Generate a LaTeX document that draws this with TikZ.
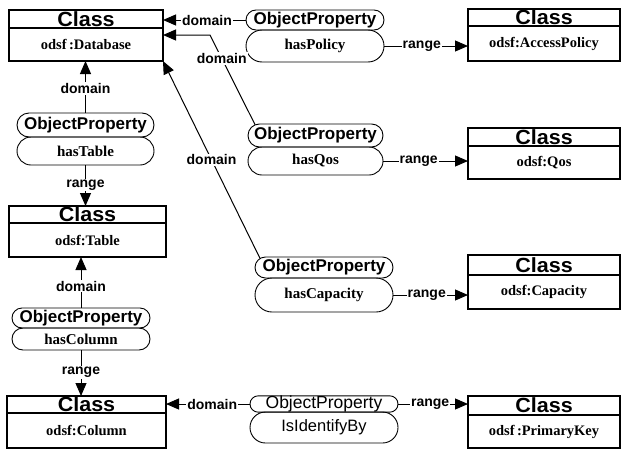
\documentclass[tikz,border=0pt]{standalone}
\usepackage{fontspec}
\setmainfont{Liberation Serif}
\setsansfont{Liberation Sans}
\usetikzlibrary{arrows.meta,shapes.misc}

\newcommand{\clsname}{\scalebox{1.05}[1]{Class}}

\tikzset{
  classhead/.style={draw, line width=1.2pt, inner sep=0pt, outer sep=0pt,
    font=\sffamily\bfseries\fontsize{20.5}{20.5}\selectfont},
  classbody/.style={draw, line width=1.2pt, inner sep=0pt, outer sep=0pt,
    font=\rmfamily\bfseries\fontsize{14.5}{14.5}\selectfont},
  proptop/.style={draw, rounded rectangle, line width=0.9pt, inner sep=0pt, outer sep=0pt,
    font=\sffamily\bfseries\fontsize{17}{17}\selectfont},
  propbot/.style={draw, rounded rectangle, line width=0.9pt, inner sep=0pt, outer sep=0pt,
    font=\rmfamily\bfseries\fontsize{15}{15}\selectfont},
  edgelabel/.style={fill=white, inner sep=1pt,
    font=\sffamily\bfseries\fontsize{14}{14}\selectfont},
  link/.style={line width=1pt, -{Triangle[length=13pt,width=11pt]}},
}

\begin{document}
\begin{tikzpicture}[x=1pt,y=-1pt]
\useasboundingbox (0,0) rectangle (623,450);

% ---- classes ----
\node[classhead, minimum width=154, minimum height=18] (dbH) at (86,19) {\clsname};
\node[classbody, minimum width=154, minimum height=33] (db) at (86,44.5) {odsf\,:Database};

\node[classhead, minimum width=152, minimum height=17] (apH) at (544,17.5) {\clsname};
\node[classbody, minimum width=152, minimum height=35] (ap) at (544,43.5) {odsf:AccessPolicy};

\node[classhead, minimum width=152, minimum height=18] (qosH) at (544,137) {\clsname};
\node[classbody, minimum width=152, minimum height=33] (qos) at (544,162.5) {odsf:Qos};

\node[classhead, minimum width=152, minimum height=20] (capH) at (544,265) {\clsname};
\node[classbody, minimum width=152, minimum height=34] (cap) at (544,292) {odsf:Capacity};

\node[classhead, minimum width=157, minimum height=17] (tblH) at (87.5,214.5) {\clsname};
\node[classbody, minimum width=157, minimum height=34] (tbl) at (87.5,240) {odsf:Table};

\node[classhead, minimum width=159, minimum height=17] (colH) at (86.5,404.5) {\clsname};
\node[classbody, minimum width=159, minimum height=35] (col) at (86.5,430.5) {odsf:Column};

\node[classhead, minimum width=152, minimum height=19] (pkH) at (544,405.5) {\clsname};
\node[classbody, minimum width=152, minimum height=33] (pk) at (544,431.5) {odsf\,:PrimaryKey};

% ---- object properties ----
\node[proptop, minimum width=138, minimum height=20] (ppT) at (315,20) {ObjectProperty};
\node[propbot, minimum width=138, minimum height=32] (ppB) at (315,46) {hasPolicy};

\node[proptop, minimum width=137, minimum height=24] (ptT) at (85.5,125) {ObjectProperty};
\node[propbot, minimum width=137, minimum height=28] (ptB) at (85.5,151) {hasTable};

\node[proptop, minimum width=135, minimum height=23] (pqT) at (315.5,135.5) {ObjectProperty};
\node[propbot, minimum width=135, minimum height=28] (pqB) at (315.5,161) {hasQos};

\node[proptop, minimum width=138, minimum height=21] (pcT) at (324,267.5) {ObjectProperty};
\node[propbot, minimum width=138, minimum height=34] (pcB) at (324,295) {hasCapacity};

\node[proptop, minimum width=138, minimum height=20] (pcolT) at (81,318) {ObjectProperty};
\node[propbot, minimum width=138, minimum height=22] (pcolB) at (81,339) {hasColumn};

\node[proptop, minimum width=148, minimum height=16,
      font=\sffamily\fontsize{17.5}{17.5}\selectfont] (piT) at (324,404) {ObjectProperty};
\node[propbot, minimum width=148, minimum height=31,
      font=\sffamily\fontsize{16.5}{16.5}\selectfont] (piB) at (324,427.5) {IsIdentifyBy};

% ---- domain links ----
\coordinate (qosBend) at (210,35);
\draw[link] (ppT.west) -- node[edgelabel,pos=0.47] {domain} (dbH.east |- ppT.west);
\draw[link] (pqT.170) -- node[edgelabel,pos=0.74] {domain} (qosBend) -- (db.east |- qosBend);
\draw[link] (pcT.172) -- node[edgelabel,pos=0.5] {domain} (db.south east);
\draw[link] (ptT.north) -- node[edgelabel,pos=0.47] {domain} (ptT.north |- db.south);
\draw[link] (pcolT.north) -- node[edgelabel,pos=0.43] {domain} (pcolT.north |- tbl.south);
\draw[link] (piT.west) -- node[edgelabel,pos=0.45] {domain} (colH.east |- piT.west);

% ---- range links ----
\draw[link] (ppB.east) -- node[edgelabel,pos=0.45] {range} (ap.west |- ppB.east);
\draw[link] (pqB.east) -- node[edgelabel,pos=0.42] {range} (qos.west |- pqB.east);
\draw[link] (pcB.east) -- node[edgelabel,pos=0.45] {range} (cap.west |- pcB.east);
\draw[link] (piT.east) -- node[edgelabel,pos=0.46] {range} (pkH.west |- piT.east);
\draw[link] (ptB.south) -- node[edgelabel,pos=0.49] {range} (ptB.south |- tblH.north);
\draw[link] (pcolB.south) -- node[edgelabel,pos=0.49] {range} (pcolB.south |- colH.north);
\end{tikzpicture}
\end{document}
